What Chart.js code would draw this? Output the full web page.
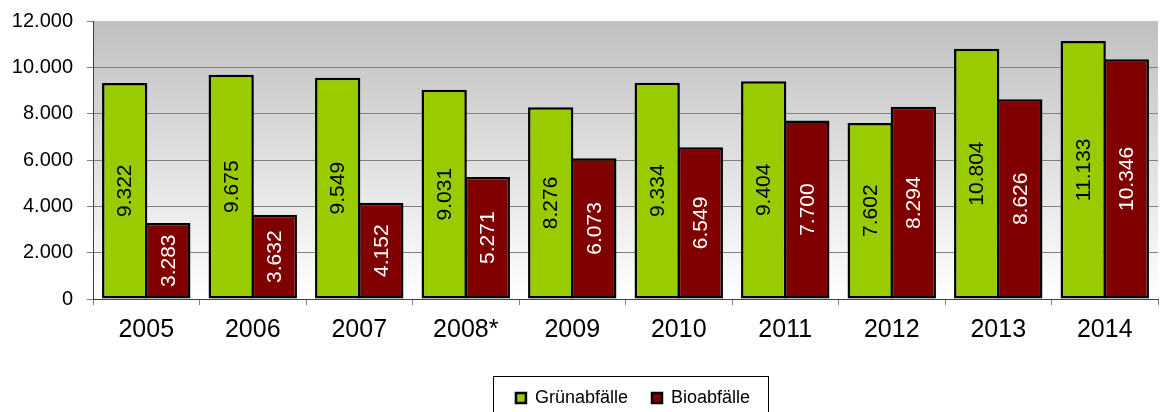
<!DOCTYPE html>
<html>
<head>
<meta charset="utf-8">
<script src="https://cdn.jsdelivr.net/npm/chart.js@4/dist/chart.umd.min.js"></script>
<style>
  html, body { margin: 0; padding: 0; background: #fff; overflow: hidden; }
  #wrap { width: 1162px; height: 412px; }
</style>
</head>
<body>
<div id="wrap"><canvas id="abfall-chart"></canvas></div>
<script>
const jahre = ['2005', '2006', '2007', '2008*', '2009', '2010', '2011', '2012', '2013', '2014'];
const gruenabfaelle = [9322, 9675, 9549, 9031, 8276, 9334, 9404, 7602, 10804, 11133];
const bioabfaelle = [3283, 3632, 4152, 5271, 6073, 6549, 7700, 8294, 8626, 10346];
const yTicks = [0, 2000, 4000, 6000, 8000, 10000, 12000];

function formatDe(v) {
    return String(Math.round(v)).replace(/\B(?=(\d{3})+(?!\d))/g, '.');
}

// grauer Verlauf hinter der Zeichenfläche
const hintergrund = {
    id: 'hintergrund',
    beforeDraw(chart) {
        const { ctx, chartArea: a } = chart;
        const g = ctx.createLinearGradient(0, a.top, 0, a.bottom);
        g.addColorStop(0, '#c0c0c0');
        g.addColorStop(1, '#ffffff');
        ctx.save();
        ctx.fillStyle = g;
        ctx.fillRect(a.left, a.top, a.right - a.left, a.bottom - a.top);
        ctx.restore();
    }
};

// Werte senkrecht in die Balken schreiben
const balkenWerte = {
    id: 'balkenWerte',
    afterDatasetsDraw(chart) {
        const ctx = chart.ctx;
        ctx.save();
        ctx.font = '21px "Liberation Sans", Arial, sans-serif';
        ctx.textAlign = 'center';
        ctx.textBaseline = 'middle';
        chart.data.datasets.forEach((ds, i) => {
            ctx.fillStyle = i === 0 ? '#000' : '#fff';
            chart.getDatasetMeta(i).data.forEach((bar, j) => {
                const yMid = (bar.y + bar.base) / 2;
                ctx.save();
                ctx.translate(bar.x, yMid);
                ctx.rotate(-Math.PI / 2);
                ctx.fillText(formatDe(ds.data[j]), 0, 1);
                ctx.restore();
            });
        });
        ctx.restore();
    }
};

// Legende verschieben und umrahmen
const legendenRahmen = {
    id: 'legendenRahmen',
    afterLayout(chart) {
        chart.legend.left += 54;
        chart.legend.right += 54;
    },
    afterDraw(chart) {
        const lg = chart.legend;
        const ctx = chart.ctx;
        const mitteY = lg.top + lg.options.labels.padding + 9;
        ctx.save();
        ctx.strokeStyle = '#000';
        ctx.lineWidth = 1;
        ctx.strokeRect(493.5, Math.round(mitteY - 22) + 0.5, 275, 44);
        ctx.restore();
    }
};

new Chart(document.getElementById('abfall-chart'), {
    type: 'bar',
    data: {
        labels: jahre,
        datasets: [{
            label: 'Grünabfälle',
            data: gruenabfaelle,
            backgroundColor: '#99cc00',
            borderColor: '#000',
            borderWidth: 2.5,
            borderSkipped: false
        }, {
            label: 'Bioabfälle',
            data: bioabfaelle,
            backgroundColor: '#800000',
            borderColor: '#000',
            borderWidth: 2.5,
            borderSkipped: false
        }]
    },
    options: {
        responsive: true,
        maintainAspectRatio: false,
        animation: false,
        layout: { padding: { top: 21, right: 4, left: 0, bottom: -5 } },
        datasets: { bar: { categoryPercentage: 0.81, barPercentage: 1.05 } },
        plugins: {
            tooltip: { enabled: false },
            legend: {
                position: 'bottom',
                labels: {
                    color: '#000',
                    font: { family: '"Liberation Sans", Arial, sans-serif', size: 18 },
                    boxWidth: 10,
                    boxHeight: 10,
                    padding: 24
                }
            }
        },
        scales: {
            x: {
                offset: true,
                grid: { display: true, drawOnChartArea: false, drawTicks: true, tickLength: 6, color: '#808080', offset: true },
                border: { display: true, color: '#404040' },
                ticks: {
                    color: '#000',
                    padding: 10,
                    font: { family: '"Liberation Sans", Arial, sans-serif', size: 25 }
                },
                afterFit(scale) { scale.height = 66; }
            },
            y: {
                min: 0,
                max: 12000,
                afterBuildTicks(scale) { scale.ticks = yTicks.map(v => ({ value: v })); },
                grid: {
                    color: c => (c.tick && c.tick.value === 12000 ? 'rgba(0,0,0,0)' : '#808080'),
                    tickColor: '#808080',
                    tickLength: 6,
                    drawTicks: true
                },
                border: { display: true, color: '#404040' },
                ticks: {
                    color: '#000',
                    padding: 14,
                    font: { family: '"Liberation Sans", Arial, sans-serif', size: 20 },
                    callback: v => formatDe(v)
                },
                afterFit(scale) {
                    scale.width = 93;
                    scale.paddingTop = 0;
                    scale.paddingBottom = 0;
                }
            }
        }
    },
    plugins: [hintergrund, balkenWerte, legendenRahmen]
});
</script>
</body>
</html>
